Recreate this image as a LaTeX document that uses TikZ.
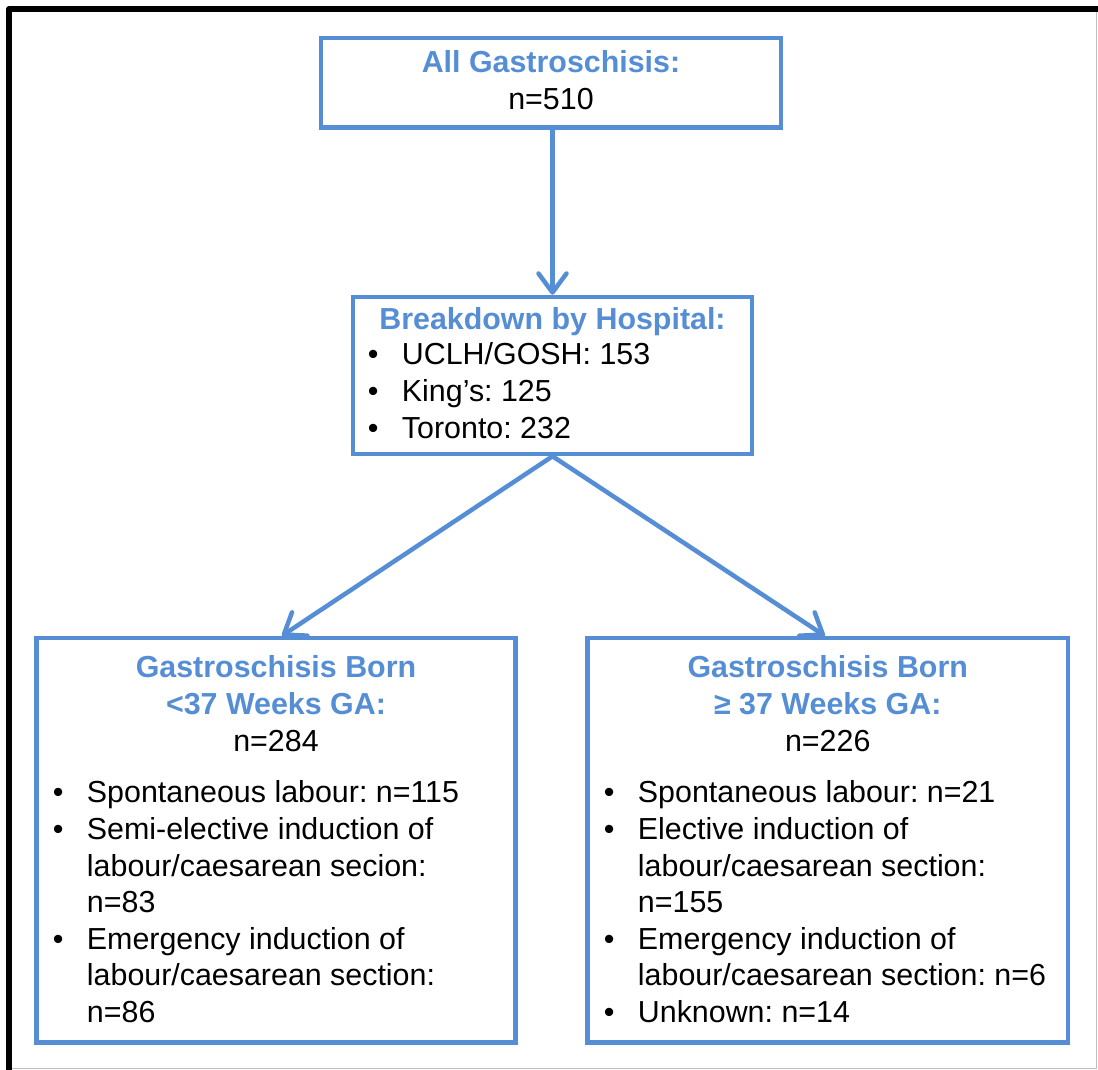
\documentclass[tikz,border=0pt]{standalone}
\usepackage{fontspec}
\setmainfont{Liberation Sans}
\usepackage{tikz}
\usetikzlibrary{positioning}
\usetikzlibrary{arrows.meta}

\definecolor{flowblue}{RGB}{85,142,213}
\newcommand{\hd}[1]{\textcolor{flowblue}{\bfseries #1}}
\newcommand{\blt}{\makebox[34pt][l]{\textbullet}}
\newcommand{\cnt}{\hspace*{34pt}}
\frenchspacing

\begin{document}
\begin{tikzpicture}[x=1pt, y=-1pt,
    font=\fontsize{30.4}{36.6}\selectfont,
    box/.style={draw=flowblue, line width=4.5pt, rectangle, inner sep=0pt},
    heading/.style={align=center, inner sep=0pt},
    items/.style={align=left, inner sep=0pt},
    arr/.style={draw=flowblue, line width=4.5pt, -{Straight Barb[length=19pt, width=28pt, round]}}]
    \useasboundingbox (0,0) rectangle (1098,1070);

    % outer frame
    \draw[line width=6pt, line join=round] (9,1070) -- (9,9) -- (1098,9);
    \draw[black!25, line width=1pt] (1096.5,12) -- (1096.5,1068) -- (12,1068);

    % boxes
    \node[box, minimum width=460pt, minimum height=89.5pt] (all) at (551,82.75) {};
    \node[box, minimum width=399pt, minimum height=157pt] (hosp) at (552.5,375.5) {};
    \node[box, minimum width=479pt, minimum height=404.5pt] (pre) at (276,840.25) {};
    \node[box, minimum width=480.5pt, minimum height=404.5pt] (term) at (827.75,840.25) {};

    % texts
    \node[heading, below=15pt of all.north] (allT) {\hd{All Gastroschisis:}\\ n=510};

    \node[heading, below=13pt of hosp.north] (hospT) {\hd{Breakdown by Hospital:}};
    \node[items, below right=48pt and 17pt of hosp.north west] (hospL)
        {\blt UCLH/GOSH: 153\\ \blt King’s: 125\\ \blt Toronto: 232};

    \node[heading, below=20pt of pre.north] (preT)
        {\hd{Gastroschisis Born}\\ \hd{<37 Weeks GA:}\\ n=284};
    \node[items, below right=145pt and 18.5pt of pre.north west] (preL)
        {\blt Spontaneous labour: n=115\\
         \blt Semi-elective induction of\\ \cnt labour/caesarean secion:\\ \cnt n=83\\
         \blt Emergency induction of\\ \cnt labour/caesarean section:\\ \cnt n=86};

    \node[heading, below=20pt of term.north] (termT)
        {\hd{Gastroschisis Born}\\ \hd{≥ 37 Weeks GA:}\\ n=226};
    \node[items, below right=145pt and 18.5pt of term.north west] (termL)
        {\blt Spontaneous labour: n=21\\
         \blt Elective induction of\\ \cnt labour/caesarean section:\\ \cnt n=155\\
         \blt Emergency induction of\\ \cnt labour/caesarean section: n=6\\
         \blt Unknown: n=14};

    % connectors
    \draw[arr] (all.south -| hosp.north) -- (hosp.north);
    \draw[arr] (hosp.south) -- ([xshift=6pt]pre.north);
    \draw[arr] (hosp.south) -- ([xshift=-3pt]term.north);
\end{tikzpicture}
\end{document}
